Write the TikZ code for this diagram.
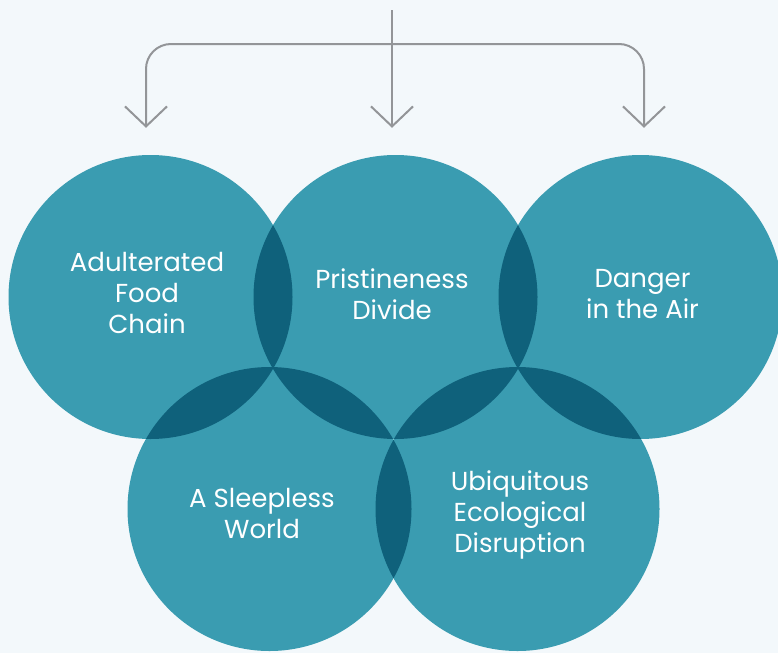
\documentclass[tikz,border=0pt]{standalone}
\usepackage{fontspec}
\setmainfont{Poppins}
\usepackage{tikz}
\usetikzlibrary{arrows.meta,positioning}
\definecolor{sheet}{HTML}{F3F8FB}
\definecolor{lagoon}{HTML}{3A9CB1}
\definecolor{deepsea}{HTML}{0F617B}
\definecolor{pipe}{HTML}{939598}

\begin{document}
\begin{tikzpicture}[x=1pt, y=-1pt,
  disc/.style={circle, fill=lagoon, minimum size=284pt, inner sep=0pt},
  lbl/.style={text=white, align=center, font=\fontsize{26}{31}\selectfont},
  link/.style={draw=pipe, line width=2pt, -{Straight Barb[length=20pt, width=42pt]}}
]
% background
\fill[sheet] (0,0) rectangle (778,653);
\useasboundingbox (0,0) rectangle (778,653);

% --- top row ---
\node[disc] (c1) at (150.5,297) {};
\node[disc] (c2) at (395.5,297) {};
\node[disc] (c3) at (640.5,297) {};
% --- bottom row ---
\node[disc] (c4) at (269.5,509) {};
\node[disc] (c5) at (517.5,509) {};

% overlaps
\foreach \a/\b in {c1/c2,c2/c3,c1/c4,c2/c4,c2/c5,c3/c5,c4/c5}{
  \begin{scope}
    \clip (\a.center) circle (142pt);
    \fill[deepsea] (\b.center) circle (142pt);
  \end{scope}
}

% labels
\node[lbl] (t1) at (147,293) {Adulterated\\Food\\Chain};
\node[lbl] (t2) at (392,294.5) {Pristineness\\Divide};
\node[lbl] (t3) at (642.5,294.5) {Danger\\in the Air};
\node[lbl] (t4) at (262,513.5) {A Sleepless\\World};
\node[lbl] (t5) at (520,515) {Ubiquitous\\Ecological\\Disruption};

% --- connectors ---
\coordinate (src) at (392,10);
\coordinate (hub) at (392,44);
\draw[link] (src) -- ([xshift=-3.5pt, yshift=27pt]c2.north);
\draw[link, rounded corners=25pt] (hub) -| ([xshift=-4.5pt, yshift=27pt]c1.north);
\draw[link, rounded corners=25pt] (hub) -| ([xshift=3.5pt, yshift=27pt]c3.north);
\end{tikzpicture}
\end{document}
